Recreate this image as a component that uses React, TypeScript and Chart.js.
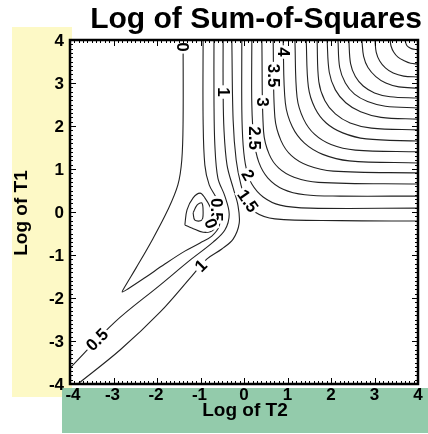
import React, { useEffect, useRef } from "react";
import { Chart, registerables } from "chart.js";
Chart.register(...registerables);

// Axis ticks
const xTickValues = [-4, -3, -2, -1, 0, 1, 2, 3, 4];
const yTickValues = [-4, -3, -2, -1, 0, 1, 2, 3, 4];

// Contour lines (log T2, log T1)
const contour0 = [[-1.40, 4], [-1.40, 2.14], [-1.43, 1.21], [-1.52, 0.63], [-1.75, 0.05], [-2.11, -0.65], [-2.48, -1.30], [-2.74, -1.74], [-2.80, -1.86], [-2.67, -1.79], [-2.28, -1.53], [-1.82, -1.21], [-1.36, -0.91], [-1.01, -0.72], [-0.74, -0.56], [-0.57, -0.33], [-0.55, 0.00], [-0.64, 0.33], [-0.80, 0.63], [-0.90, 1.09], [-0.94, 2.14], [-0.94, 4]];
const minLoopOuter = [[-1.36, -0.30], [-1.31, 0.05], [-1.17, 0.33], [-1.01, 0.44], [-0.90, 0.33], [-0.78, 0.12], [-0.67, -0.19], [-0.71, -0.42], [-0.94, -0.47], [-1.20, -0.37], [-1.36, -0.30]];
const minLoopInner = [[-1.17, -0.02], [-1.08, 0.16], [-0.97, 0.21], [-0.94, 0.00], [-0.97, -0.19], [-1.13, -0.19], [-1.17, -0.02]];
const contour05 = [[-4, -3.63], [-2.97, -2.56], [-1.93, -1.70], [-1.24, -1.12], [-0.71, -0.70], [-0.44, -0.42], [-0.34, -0.05], [-0.44, 0.37], [-0.60, 0.79], [-0.67, 1.56], [-0.69, 2.60], [-0.69, 4]];
const contour1 = [[-3.82, -4], [-2.85, -3.21], [-1.93, -2.33], [-1.20, -1.49], [-0.85, -1.09], [-0.51, -0.86], [-0.25, -0.63], [-0.11, -0.26], [-0.14, 0.16], [-0.25, 0.56], [-0.39, 1.09], [-0.46, 1.91], [-0.48, 2.84], [-0.48, 4]];
const contour15 = [[-0.28, 4], [-0.25, 2.14], [-0.18, 1.21], [-0.07, 0.63], [0.05, 0.28], [0.25, 0], [0.71, -0.16], [2.21, -0.20], [4, -0.21]];
const contour2 = [[-0.05, 4], [-0.05, 2.37], [-0.02, 1.56], [0.05, 1.02], [0.18, 0.65], [0.44, 0.35], [0.83, 0.16], [1.52, 0.09], [4, 0.09]];
const contour25 = [[0.18, 4], [0.18, 2.49], [0.23, 1.67], [0.34, 1.16], [0.55, 0.79], [0.90, 0.53], [1.40, 0.40], [2.21, 0.37], [4, 0.37]];
const contour3 = [[0.41, 4], [0.45, 1.87], [0.58, 1.34], [0.80, 1.02], [1.15, 0.81], [1.71, 0.69], [4, 0.65]];
const contour35 = [[0.67, 4], [0.71, 2.20], [0.85, 1.66], [1.09, 1.31], [1.47, 1.08], [2.05, 0.95], [4, 0.91]];
const contour4 = [[0.90, 4], [0.95, 2.54], [1.11, 1.98], [1.39, 1.60], [1.81, 1.34], [2.42, 1.19], [4, 1.14]];
const contour45 = [[1.17, 4], [1.22, 2.67], [1.37, 2.16], [1.62, 1.81], [2.00, 1.57], [2.56, 1.44], [4, 1.40]];
const contour5 = [[1.43, 4], [1.48, 2.91], [1.63, 2.42], [1.89, 2.07], [2.27, 1.84], [2.81, 1.70], [4, 1.65]];
const contour55 = [[1.68, 4], [1.72, 3.03], [1.86, 2.59], [2.10, 2.28], [2.44, 2.07], [2.93, 1.95], [4, 1.91]];
const contour6 = [[1.91, 4], [1.96, 3.25], [2.10, 2.84], [2.34, 2.54], [2.68, 2.33], [3.15, 2.20], [4, 2.16]];
const contour65 = [[2.16, 4], [2.20, 3.36], [2.33, 3.00], [2.54, 2.74], [2.84, 2.57], [3.25, 2.46], [4, 2.42]];
const contour7 = [[2.41, 4], [2.45, 3.45], [2.56, 3.15], [2.74, 2.93], [3.00, 2.77], [3.36, 2.68], [4, 2.65]];
const contour75 = [[2.71, 4], [2.75, 3.62], [2.85, 3.36], [3.03, 3.15], [3.26, 3.00], [3.56, 2.91], [4, 2.88]];
const contour8 = [[3.01, 4], [3.04, 3.71], [3.12, 3.51], [3.25, 3.35], [3.43, 3.23], [3.67, 3.16], [4, 3.14]];
const contour85 = [[3.36, 4], [3.38, 3.86], [3.44, 3.72], [3.54, 3.60], [3.68, 3.52], [3.83, 3.46], [4, 3.44]];
const contour9 = [[3.70, 4], [3.74, 3.88], [3.79, 3.83], [3.85, 3.80], [4, 3.77]];

const contours = [contour0, minLoopOuter, minLoopInner, contour05, contour1, contour15, contour2, contour25, contour3, contour35, contour4, contour45, contour5, contour55, contour6, contour65, contour7, contour75, contour8, contour85, contour9];

// Contour labels
const labelText = ["0", "1", "4", "3.5", "3", "2.5", "2", "1.5", "0.5", "0", "1", "0.5"];
const labelX = [-1.40, -0.46, 0.92, 0.69, 0.44, 0.25, 0.09, 0.09, -0.62, -0.76, -0.99, -3.38];
const labelY = [3.84, 2.79, 3.72, 3.17, 2.56, 1.72, 0.86, 0.26, 0.05, -0.27, -1.25, -2.97];
const labelAngle = [90, 90, 90, 90, 90, 90, 60, 55, 90, 70, -45, -45];

const FONT = '"Liberation Sans", Arial, Helvetica, sans-serif';

const decor = {
  id: "decor",
  beforeDraw(chart: any) {
    const { ctx, chartArea: a } = chart;
    ctx.save();
    ctx.fillStyle = "#ffffff";
    ctx.fillRect(0, 0, chart.width, chart.height);
    ctx.fillStyle = "#fdf9c6";
    ctx.fillRect(12, 27, 60, 370);
    ctx.fillStyle = "#93cbab";
    ctx.fillRect(62, 388, 366, 45);
    ctx.fillStyle = "#ffffff";
    ctx.fillRect(a.left, a.top, a.right - a.left, a.bottom - a.top);
    ctx.restore();
  },
  afterDatasetsDraw(chart: any) {
    const { ctx, chartArea: a, scales } = chart;
    const xs = scales.x, ys = scales.y;
    ctx.save();
    ctx.beginPath();
    ctx.rect(a.left, a.top, a.right - a.left, a.bottom - a.top);
    ctx.clip();
    ctx.font = `bold 17px ${FONT}`;
    ctx.textAlign = "center";
    ctx.textBaseline = "middle";
    for (let i = 0; i < labelText.length; i++) {
      const px = xs.getPixelForValue(labelX[i]);
      const py = ys.getPixelForValue(labelY[i]);
      ctx.save();
      ctx.translate(px, py);
      ctx.rotate((labelAngle[i] * Math.PI) / 180);
      const w = ctx.measureText(labelText[i]).width;
      ctx.fillStyle = "#ffffff";
      ctx.fillRect(-w / 2 - 2, -7, w + 4, 14);
      ctx.fillStyle = "#000000";
      ctx.fillText(labelText[i], 0, 1);
      ctx.restore();
    }
    ctx.restore();

    // ticks (inward)
    ctx.save();
    ctx.strokeStyle = "#000";
    ctx.lineWidth = 1;
    for (let i = -40; i <= 40; i++) {
      const major = i % 10 === 0;
      const len = major ? 6 : 3;
      const v = i / 10;
      const px = Math.round(xs.getPixelForValue(v)) + 0.5;
      const py = Math.round(ys.getPixelForValue(v)) + 0.5;
      ctx.beginPath();
      ctx.moveTo(px, a.bottom); ctx.lineTo(px, a.bottom - len);
      ctx.moveTo(px, a.top); ctx.lineTo(px, a.top + len);
      ctx.moveTo(a.left, py); ctx.lineTo(a.left + len, py);
      ctx.moveTo(a.right, py); ctx.lineTo(a.right - len, py);
      ctx.stroke();
    }
    ctx.lineWidth = 2.5;
    ctx.strokeRect(a.left, a.top, a.right - a.left, a.bottom - a.top);

    // tick labels
    ctx.fillStyle = "#000";
    ctx.font = `bold 17px ${FONT}`;
    ctx.textAlign = "right";
    ctx.textBaseline = "middle";
    for (const v of yTickValues) {
      ctx.fillText(String(v), a.left - 6, ys.getPixelForValue(v) + 1);
    }
    ctx.textAlign = "center";
    ctx.textBaseline = "top";
    for (const v of xTickValues) {
      const off = v === xTickValues[0] ? 3 : v < 0 ? -1 : 0;
      ctx.fillText(String(v), xs.getPixelForValue(v) + off, a.bottom + 3);
    }
    ctx.restore();
  },
  afterDraw(chart: any) {
    const { ctx } = chart;
    ctx.save();
    ctx.fillStyle = "#000";
    ctx.font = `bold 30px ${FONT}`;
    ctx.textAlign = "center";
    ctx.textBaseline = "alphabetic";
    ctx.fillText("Log of Sum-of-Squares", 256, 28);
    ctx.font = `bold 19px ${FONT}`;
    ctx.textBaseline = "middle";
    ctx.fillText("Log of T2", 245, 411);
    ctx.translate(22, 213);
    ctx.rotate(-Math.PI / 2);
    ctx.fillText("Log of T1", 0, 0);
    ctx.restore();
  },
};

export default function App() {
  const ref = useRef<HTMLCanvasElement | null>(null);
  useEffect(() => {
    if (!ref.current) return;
    const chart = new Chart(ref.current, {
      type: "scatter",
      data: {
        datasets: contours.map((c) => ({
          data: c.map(([x, y]) => ({ x, y })),
          showLine: true,
          borderColor: "#222",
          borderWidth: 1.1,
          pointRadius: 0,
          tension: 0.35,
          fill: false,
        })),
      },
      options: {
        responsive: false,
        animation: false,
        events: [],
        layout: { padding: { top: 40, right: 10, left: 0, bottom: 0 } },
        plugins: { legend: { display: false }, tooltip: { enabled: false }, title: { display: false } },
        scales: {
          x: {
            type: "linear",
            min: -4,
            max: 4,
            afterFit: (s: any) => { s.height = 50; },
            grid: { display: false, drawTicks: false },
            border: { display: false },
            ticks: { display: false },
          },
          y: {
            type: "linear",
            min: -4,
            max: 4,
            afterFit: (s: any) => { s.width = 70; },
            grid: { display: false, drawTicks: false },
            border: { display: false },
            ticks: { display: false },
          },
        },
      },
      plugins: [decor],
    });
    return () => chart.destroy();
  }, []);
  return (
    <div style={{ position: "fixed", left: 0, top: 0, width: 428, height: 434 }}>
      <canvas ref={ref} width={428} height={434} />
    </div>
  );
}
